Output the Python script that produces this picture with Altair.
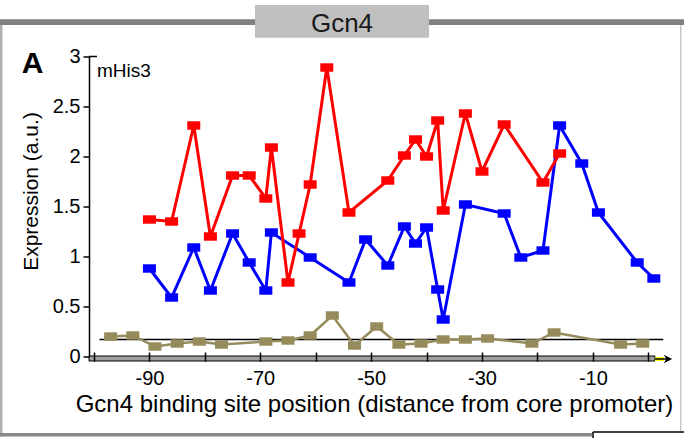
import altair as alt
import pandas as pd

# Binding-site positions (bp from core promoter) and expression levels
red_pos = [-90, -86, -82, -79, -75, -72, -69, -68, -65, -63, -61, -58, -54,
           -47, -44, -42, -40, -38, -37, -33, -30, -26, -19, -16]
red_val = [1.37, 1.35, 2.31, 1.20, 1.81, 1.81, 1.58, 2.09, 0.74, 1.23, 1.72, 2.89, 1.44,
           1.76, 2.01, 2.17, 2.00, 2.36, 1.46, 2.43, 1.85, 2.32, 1.74, 2.03]

blue_pos = [-90, -86, -82, -79, -75, -72, -69, -68, -61, -54, -51, -47, -44,
            -42, -40, -38, -37, -33, -26, -23, -19, -16, -12, -9, -2, 1]
blue_val = [0.88, 0.59, 1.09, 0.66, 1.23, 0.94, 0.66, 1.24, 0.99, 0.74, 1.17, 0.91, 1.30,
            1.13, 1.29, 0.67, 0.37, 1.52, 1.43, 0.99, 1.06, 2.31, 1.93, 1.44, 0.94, 0.78]

olive_pos = [-97, -93, -89, -85, -81, -77, -69, -65, -61, -57, -53, -49, -45,
             -41, -37, -33, -29, -21, -17, -5, -1]
olive_val = [0.20, 0.21, 0.10, 0.13, 0.15, 0.12, 0.15, 0.16, 0.21, 0.41, 0.11, 0.30, 0.12,
             0.13, 0.17, 0.17, 0.18, 0.13, 0.24, 0.12, 0.13]

background_level = 0.17
background_span = [-99, 2.7]

x_ticks = list(range(-100, 1, 10))
x_labelled = [-90, -70, -50, -30, -10]
y_ticks = [0, 0.5, 1, 1.5, 2, 2.5, 3]

panel_title = "Gcn4"
panel_letter = "A"
construct = "mHis3"
x_title = "Gcn4 binding site position (distance from core promoter)"
y_title = "Expression (a.u.)"

FONT = "Liberation Sans"
BOX = "M-1,-0.65L1,-0.65L1,0.65L-1,0.65Z"
ARROW = "M-1,-1L1,0L-1,1L-0.4,0Z"

xs = alt.Scale(domain=[-100, 5], nice=False, zero=False)
ys = alt.Scale(domain=[0, 3], nice=False, zero=False)

x_axis = alt.Axis(
    values=x_ticks, domain=False, ticks=True, tickSize=9, tickWidth=1.5,
    tickColor="black", offset=-4.5,
    labelExpr=f"indexof({x_labelled}, datum.value) >= 0 ? '' + datum.value : ''",
    labelFont=FONT, labelFontSize=20, labelColor="black", labelPadding=7.5,
    labelFlush=False, labelOverlap=False, title=None, grid=False, zindex=2,
)
y_axis = alt.Axis(
    values=y_ticks, domain=True, domainColor="black", domainWidth=1.5,
    ticks=True, tickSize=6, tickWidth=1.5, tickColor="black", offset=5,
    labelExpr="'' + datum.value", labelFont=FONT, labelFontSize=20,
    labelColor="black", labelPadding=3, labelFlush=False, labelOverlap=False,
    title=None, grid=False, zindex=2,
)

one = pd.DataFrame({"k": [0]})


def deco_rect(x, x2, y, y2, **kw):
    return alt.Chart(one).mark_rect(**kw).encode(
        x=alt.value(x), x2=alt.value(x2), y=alt.value(y), y2=alt.value(y2))


def deco_text(s, x, y, **kw):
    return alt.Chart(pd.DataFrame({"t": [s]})).mark_text(**kw).encode(
        text="t:N", x=alt.value(x), y=alt.value(y))


def series(pos, val, color, width):
    df = pd.DataFrame({"pos": pos, "val": val})
    base = alt.Chart(df).encode(
        x=alt.X("pos:Q", scale=xs, axis=x_axis),
        y=alt.Y("val:Q", scale=ys, axis=y_axis),
    )
    line = base.mark_line(color=color, strokeWidth=width)
    pts = base.mark_point(shape=BOX, size=169, filled=True, color=color, opacity=1)
    return line + pts


# axis bar along the bottom, with yellow arrow tail and arrowhead
axis_bar = deco_rect(-5, 561, 299.5, 304.5, fill="#a0a0a0", stroke="black", strokeWidth=1)
arrow_tail = deco_rect(561, 570, 300.5, 304.5, fill="#ffff00")
arrow_line = alt.Chart(one).mark_rule(color="black", strokeWidth=1.5).encode(
    x=alt.value(561), x2=alt.value(574), y=alt.value(302.5))
arrow_head = alt.Chart(one).mark_point(shape=ARROW, size=70, filled=True,
                                       color="black", opacity=1).encode(
    x=alt.value(574), y=alt.value(302.5))

# horizontal background-level line
bg = pd.DataFrame({"pos": [background_span[0]], "pos_end": [background_span[1]],
                   "val": [background_level]})
bg_rule = alt.Chart(bg).mark_rule(color="black", strokeWidth=1.5).encode(
    x=alt.X("pos:Q", scale=xs, axis=x_axis),
    x2="pos_end:Q",
    y=alt.Y("val:Q", scale=ys, axis=y_axis),
)

top_cap = alt.Chart(pd.DataFrame({"val": [3]})).mark_rule(color="black", strokeWidth=1.5).encode(
    x=alt.value(-5), x2=alt.value(3), y=alt.Y("val:Q", scale=ys, axis=y_axis))

# panel frame
frame = [
    deco_rect(-94, 590, -37.2, -31.5, fill="#808080"),
    deco_rect(-94, -91.5, -31.5, 380, fill="#b0b0b0"),
    deco_rect(586, 587.5, -31.5, 375, fill="#c8c8c8"),
    deco_rect(-94, 498, 376.5, 380, fill="#888888"),
    deco_rect(161, 335, -51.5, -18.8, fill="#c0c0c0"),
    alt.Chart(one).mark_rule(color="black", strokeWidth=1.5).encode(
        x=alt.value(499), x2=alt.value(590), y=alt.value(375.5)),
    alt.Chart(one).mark_rule(color="black", strokeWidth=1.5).encode(
        x=alt.value(499), y=alt.value(375.5), y2=alt.value(382)),
]

texts = [
    deco_text(panel_title, 248, -24.8, font=FONT, fontSize=26, color="#1a1a1a",
              align="center", baseline="alphabetic"),
    deco_text(panel_letter, -72.3, 16.8, font=FONT, fontSize=30, fontWeight="bold",
              color="black", align="left", baseline="alphabetic"),
    deco_text(construct, 3, 20.2, font=FONT, fontSize=19, color="black",
              align="left", baseline="alphabetic"),
    deco_text(x_title, 280.5, 355.2, font=FONT, fontSize=24, color="black",
              align="center", baseline="alphabetic"),
    deco_text(y_title, -62, 135, font=FONT, fontSize=21, color="black",
              align="center", baseline="middle", angle=270),
]

chart = alt.layer(
    *frame,
    axis_bar, arrow_tail, arrow_line, arrow_head,
    bg_rule, top_cap,
    series(olive_pos, olive_val, "#968b5b", 2.5),
    series(blue_pos, blue_val, "#0000ff", 3),
    series(red_pos, red_val, "#ff0000", 3),
    *texts,
).properties(
    width=582, height=300,
    autosize=alt.AutoSizeParams(type="none"),
    padding={"left": 94, "top": 56.5, "right": 8, "bottom": 81.5},
    background="white",
).configure_view(stroke=None)

chart.save("out.html", embed_options={"renderer": "svg", "actions": False})
